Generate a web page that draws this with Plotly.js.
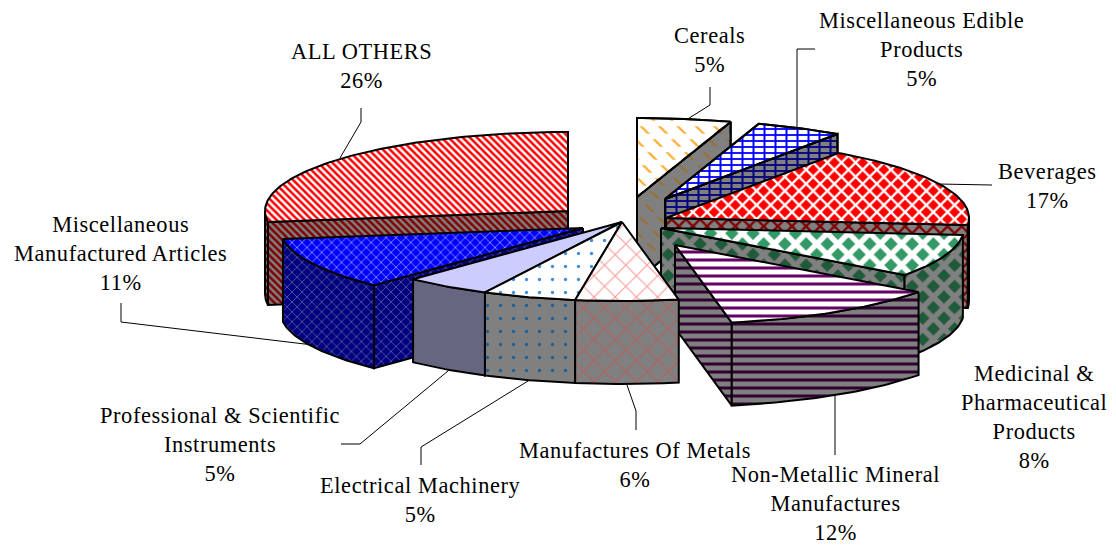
<!DOCTYPE html>
<html><head><meta charset="utf-8">
<script src="https://cdn.plot.ly/plotly-3.0.1.min.js"></script>
<style>html,body{margin:0;padding:0;background:#fff}#c{width:1116px;height:548px}
.annotation-text{letter-spacing:.6px}</style>
</head><body><div id="c"></div>
<script>
// ---- data (clockwise from 12 o'clock) ----
const categories = ["Cereals","Miscellaneous Edible Products","Beverages","Medicinal & Pharmaceutical Products","Non-Metallic Mineral Manufactures","Manufactures Of Metals","Electrical Machinery","Professional & Scientific Instruments","Miscellaneous Manufactured Articles","ALL OTHERS"];
const shares = [5.0,4.64,16.75,8.75,11.86,5.47,5.0,4.64,10.67,27.22];
const percentLabels = ["5%","5%","17%","8%","12%","6%","5%","5%","11%","26%"];
const labelLines = [
 "Cereals","Miscellaneous Edible<br>Products","Beverages","Medicinal &<br>Pharmaceutical<br>Products",
 "Non-Metallic Mineral<br>Manufactures","Manufactures Of Metals","Electrical Machinery",
 "Professional & Scientific<br>Instruments","Miscellaneous<br>Manufactured Articles","ALL OTHERS"];

// ---- geometry & style ----
const RX=303, RY=79, DEPTH=83;
const apexX=[637,665,666,661,675,622,622,622,583,568];
const apexY=[197,199,218,228,245,222,222,222,228,211];
const drawOrder=[9,0,1,2,3,8,7,6,4,5];
const topStyle=[
 {shape:"\\",fg:"#ffa928",bg:"#ffffff",size:13,sol:0.17,over:{shape:"-",size:13,sol:0.42,top:"#ffffff",side:"#808080"}},
 {shape:"-",fg:"#0000ff",bg:"#ffffff",size:6,sol:0.3,over:{shape:"|",size:11,sol:0.18,top:"#0000ff",side:"#000080"}},
 {shape:"x",fg:"#ffffff",bg:"#ff0000",size:10,sol:0.42},
 {shape:"x",fg:"#ffffff",bg:"#339966",size:15,sol:0.6},
 {shape:"-",fg:"#660066",bg:"#ffffff",size:8,sol:0.38},
 {shape:"x",fg:"#ff9999",bg:"#ffffff",size:15,sol:0.14},
 {shape:".",fg:"#3f8fd6",bg:"#ffffff",size:13,sol:0.05},
 {shape:"",fg:"#ccccff",bg:"#ccccff",size:8,sol:0.3},
 {shape:"x",fg:"#a8b0ff",bg:"#0000ff",size:7,sol:0.2},
 {shape:"\\",fg:"#ff0000",bg:"#ffffff",size:5,sol:0.5}
];
const sideStyle=[
 {fg:"#99702f",bg:"#808080"},{fg:"#000080",bg:"#808080"},{fg:"#800000",bg:"#808080"},
 {fg:"#808080",bg:"#1f5a3a"},{fg:"#330033",bg:"#808080"},{fg:"#b56060",bg:"#808080"},
 {fg:"#1f5f96",bg:"#808080"},{fg:"#666680",bg:"#666680"},{fg:"#6a6aa0",bg:"#000080"},{fg:"#800000",bg:"#808080"}
];
const labelX=[709,921,1047,1034,835,635,420,220,120,361];
const labelY=[50,49,186,417,503,465,500,444,253,66];
const leaders=[
 [[710,87],[710,105],[686,120]],
 [[815,49],[797,49],[797,129]],
 [[992,185],[938,184]],
 [],
 [[835,395],[835,455]],
 [[627,385],[636,411],[636,430]],
 [[528,381],[421,447],[421,465]],
 [[341,444],[360,444],[448,371]],
 [[121,303],[121,322],[313,345]],
 [[361,108],[361,122],[340,158]]
];

// ---- build from the values ----
const rad=d=>d*Math.PI/180;
const starts=[];let acc=0;
shares.forEach(s=>{starts.push(acc);acc+=s*3.6;});
function pt(i,t,dz){return [apexX[i]+RX*Math.sin(rad(t)), apexY[i]-RY*Math.cos(rad(t))+(dz||0)];}
function arc(i,a,b,dz){const n=Math.max(2,Math.ceil(Math.abs(b-a)));const o=[];for(let k=0;k<=n;k++)o.push(pt(i,a+(b-a)*k/n,dz));return o;}
function poly(pts,st,ts,overColor){
 const p=pts.concat([pts[0]]);
 const tr={type:"scatter",mode:"lines",x:p.map(q=>q[0]),y:p.map(q=>q[1]),fill:"toself",hoverinfo:"skip",showlegend:false,
  line:{color:"#000",width:2},fillcolor:st.bg};
 if(ts.shape) tr.fillpattern={shape:ts.shape,fgcolor:st.fg,bgcolor:st.bg,size:ts.size,solidity:ts.sol,fillmode:"replace"};
 const out=[tr];
 if(ts.over){
  const o=ts.over;
  out.push({type:"scatter",mode:"lines",x:tr.x,y:tr.y,fill:"toself",hoverinfo:"skip",showlegend:false,
   line:{color:"#000",width:2},fillcolor:"rgba(0,0,0,0)",
   fillpattern:{shape:o.shape,fgcolor:overColor,bgcolor:"rgba(0,0,0,0)",size:o.size,solidity:o.sol,fillmode:"replace"}});
 }
 return out;
}
const traces=[];
drawOrder.forEach(i=>{
 const t1=starts[i],t2=t1+shares[i]*3.6,ts=topStyle[i],ss=sideStyle[i];
 const A=[apexX[i],apexY[i]],Ad=[apexX[i],apexY[i]+DEPTH];
 const oS=ts.over?ts.over.side:null,oT=ts.over?ts.over.top:null;
 const side=pts=>traces.push(...poly(pts,ss,ts,oS));
 if(t1>180) side([A,pt(i,t1),pt(i,t1,DEPTH),Ad]);
 if(t2<180) side([A,pt(i,t2),pt(i,t2,DEPTH),Ad]);
 const a=Math.max(t1,90),b=Math.min(t2,270);
 if(b>a) side(arc(i,a,b,0).concat(arc(i,b,a,DEPTH)));
 traces.push(...poly([A].concat(arc(i,t1,t2,0)),ts,ts,oT));
});
leaders.forEach(l=>{ if(l.length) traces.push({type:"scatter",mode:"lines",x:l.map(q=>q[0]),y:l.map(q=>q[1]),
 line:{color:"#000",width:1},hoverinfo:"skip",showlegend:false});});
const annotations=categories.map((c,i)=>({x:labelX[i],y:labelY[i],xref:"x",yref:"y",xanchor:"center",yanchor:"middle",align:"center",
 showarrow:false,text:labelLines[i]+"<br>"+percentLabels[i],font:{family:"Liberation Serif",size:22.4,color:"#000"}}));
Plotly.newPlot("c",traces,{
 width:1116,height:548,margin:{l:0,r:0,t:0,b:0},paper_bgcolor:"#fff",plot_bgcolor:"#fff",showlegend:false,
 xaxis:{range:[0,1116],visible:false,fixedrange:true},yaxis:{range:[548,0],visible:false,fixedrange:true},
 annotations:annotations
},{staticPlot:true});
</script></body></html>
